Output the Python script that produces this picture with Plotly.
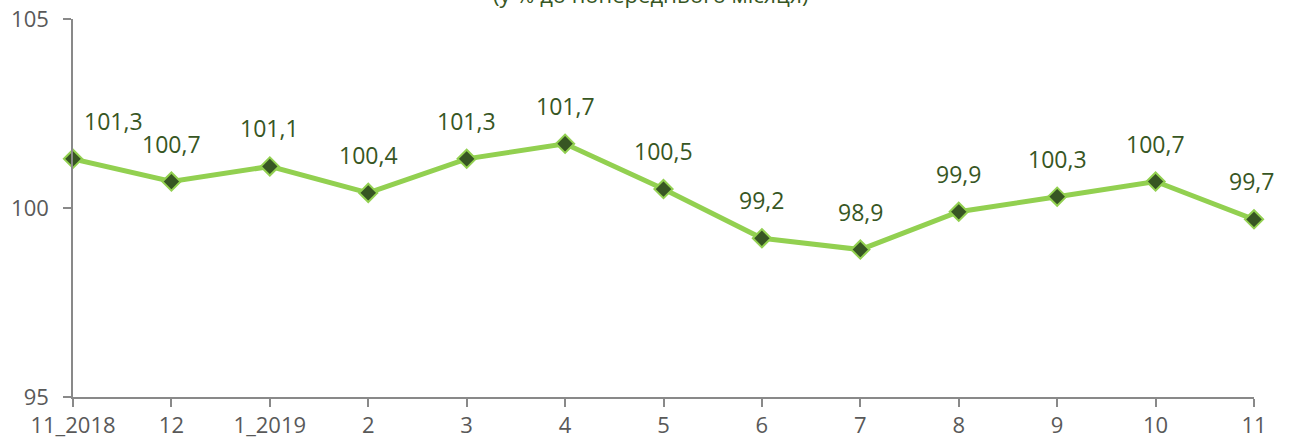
import plotly.graph_objects as go

categories = ["11_2018", "12", "1_2019", "2", "3", "4", "5", "6", "7", "8", "9", "10", "11"]
values = [101.3, 100.7, 101.1, 100.4, 101.3, 101.7, 100.5, 99.2, 98.9, 99.9, 100.3, 100.7, 99.7]
labels = [f"{v:.1f}".replace(".", ",") for v in values]
title_text = "(у % до попереднього місяця)"

LINE = "#92D050"
DARK = "#375623"
GREY = "#595959"
FONT = "Open Sans"

fig = go.Figure()
fig.add_trace(go.Scatter(
    x=list(range(len(categories))), y=values, mode="lines+markers",
    line=dict(color=LINE, width=5),
    marker=dict(symbol="diamond", size=14, color=DARK, line=dict(color=LINE, width=2)),
    hoverinfo="skip", cliponaxis=False,
))

for i, (v, t) in enumerate(zip(values, labels)):
    fig.add_annotation(
        x=i, y=v, text=t, showarrow=False,
        xshift=40 if i == 0 else -3 if i == len(values) - 1 else 0,
        yshift=38,
        font=dict(family=FONT, size=23, color=DARK),
    )

fig.add_annotation(
    xref="paper", yref="paper", x=(650 - 73) / 1181, y=1, yshift=8,
    xanchor="center", yanchor="bottom", text=title_text, showarrow=False,
    font=dict(family=FONT, size=22, color=DARK),
)

fig.update_layout(
    width=1290, height=445,
    margin=dict(l=73, r=36, t=19, b=48, autoexpand=False),
    paper_bgcolor="white", plot_bgcolor="white",
    showlegend=False,
    xaxis=dict(
        range=[0, len(categories) - 1], automargin=False,
        tickmode="array", tickvals=list(range(len(categories))), ticktext=categories,
        showgrid=False, zeroline=False,
        showline=True, linecolor="#898989", linewidth=1.5,
        ticks="outside", ticklen=8, tickcolor="#898989", tickwidth=1.5,
        tickfont=dict(family=FONT, size=22, color=GREY),
    ),
    yaxis=dict(
        range=[95, 105], tickvals=[95, 100, 105], automargin=False,
        showgrid=False, zeroline=False,
        showline=True, linecolor="#898989", linewidth=1.5,
        ticks="outside", ticklen=8, tickcolor="#898989", tickwidth=1.5,
        ticklabelstandoff=10,
        tickfont=dict(family=FONT, size=22, color=GREY),
    ),
)

fig.write_html("out.html", config={"displayModeBar": False},
               post_script="document.body.style.margin='0';")
